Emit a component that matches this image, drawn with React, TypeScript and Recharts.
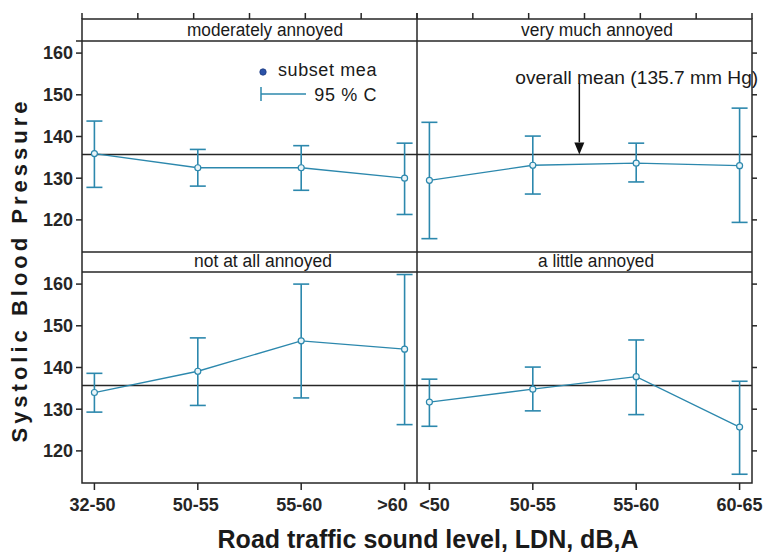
import React from "react";
import {
  ComposedChart,
  Line,
  ErrorBar,
  XAxis,
  YAxis,
  ReferenceLine,
  ReferenceDot,
} from "recharts";

// values (mmHg)
const overallMean = 135.7;
const yTicks = [120, 130, 140, 150, 160];
const topTicks = [0, 0.5, 1, 1.5, 2, 2.5, 3];
const leftCategories = ["32-50", "50-55", "55-60", ">60"];
const rightCategories = ["<50", "50-55", "55-60", "60-65"];

// moderately annoyed
const moderatelyMean = [135.9, 132.5, 132.5, 130.0];
const moderatelyLow = [127.8, 128.1, 127.1, 121.3];
const moderatelyHigh = [143.7, 136.9, 137.8, 138.4];

// very much annoyed
const veryMuchMean = [129.5, 133.1, 133.6, 133.0];
const veryMuchLow = [115.5, 126.2, 129.1, 119.4];
const veryMuchHigh = [143.4, 140.1, 138.4, 146.8];

// not at all annoyed
const notAtAllMean = [134.0, 139.1, 146.4, 144.4];
const notAtAllLow = [129.3, 130.9, 132.7, 126.3];
const notAtAllHigh = [138.6, 147.1, 160.0, 162.3];

// a little annoyed
const littleMean = [131.7, 134.8, 137.8, 125.7];
const littleLow = [125.9, 129.6, 128.7, 114.4];
const littleHigh = [137.2, 140.1, 146.6, 136.7];

const W = 763;
const H = 553;
const teal = "#2c88ad";
const ink = "#262626";
const sans = "'Liberation Sans', Arial, sans-serif";

const yDomain: [number, number] = [112.3, 162.9];
const xDomain: [number, number] = [-0.12, 3.12];

const buildRows = (cats: string[], mean: number[], low: number[], high: number[]) =>
  cats.map((c, i) => ({
    x: i,
    label: c,
    mean: mean[i],
    err: [mean[i] - low[i], high[i] - mean[i]],
  }));

const tickStyle = { fontFamily: sans, fontWeight: 700, fontSize: 18, fill: ink };

const TopTick = (props: any) => (
  <line x1={props.x} x2={props.x} y1={props.y - 22} y2={props.y - 28} stroke={ink} strokeWidth={1.5} />
);
const NoLabel = () => <g />;

interface PanelProps {
  rows: ReturnType<typeof buildRows>;
  cats: string[];
  rect: { x0: number; x1: number; y0: number; y1: number };
  labelShift?: number[];
  showLeft?: boolean;
  showRight?: boolean;
  showTop?: boolean;
  showBottom?: boolean;
  annotate?: boolean;
}

const Panel: React.FC<PanelProps> = ({ rows, cats, rect, labelShift = [0, 0, 0, 0], showLeft, showRight, showTop, showBottom, annotate }) => {
  const margin = {
    left: rect.x0 - (showLeft ? 60 : 0),
    right: W - rect.x1 - (showRight ? 10 : 0),
    top: rect.y0 - (showTop ? 10 : 0),
    bottom: H - rect.y1 - (showBottom ? 45 : 0),
  };
  const BottomTick = (p: any) => (
    <text
      x={p.x + (labelShift[p.payload.value] || 0)}
      y={p.y}
      dy="0.71em"
      textAnchor="middle"
      {...tickStyle}
    >
      {cats[p.payload.value]}
    </text>
  );
  return (
    <div style={{ position: "absolute", left: 0, top: 0 }}>
      <ComposedChart width={W} height={H} data={rows} margin={margin}>
        <XAxis
          xAxisId="x"
          dataKey="x"
          type="number"
          domain={xDomain}
          allowDataOverflow
          ticks={[0, 1, 2, 3]}
          hide={!showBottom}
          height={45}
          axisLine={false}
          tickSize={7}
          tickMargin={8}
          tickLine={{ stroke: ink, strokeWidth: 1.5 }}
          tick={BottomTick}
          interval={0}
        />
        {showTop && (
          <XAxis
            xAxisId="t"
            type="number"
            orientation="top"
            domain={xDomain}
            allowDataOverflow
            ticks={topTicks}
            height={10}
            axisLine={false}
            tickLine={false}
            tickSize={0}
            tickMargin={0}
            tick={TopTick}
            interval={0}
          />
        )}
        <YAxis
          yAxisId="y"
          type="number"
          domain={yDomain}
          allowDataOverflow
          ticks={yTicks}
          hide={!showLeft}
          width={60}
          axisLine={false}
          tickSize={6}
          tickMargin={3}
          tickLine={{ stroke: ink, strokeWidth: 1.5 }}
          tick={tickStyle}
          interval={0}
        />
        {showRight && (
          <YAxis
            yAxisId="r"
            orientation="right"
            type="number"
            domain={yDomain}
            allowDataOverflow
            ticks={yTicks}
            width={10}
            axisLine={false}
            tickSize={5}
            tickLine={{ stroke: ink, strokeWidth: 1.5 }}
            tick={NoLabel}
            interval={0}
          />
        )}
        <ReferenceLine xAxisId="x" yAxisId="y" y={overallMean} stroke={ink} strokeWidth={1.5} />
        {annotate && (
          <ReferenceLine
            xAxisId="x"
            yAxisId="y"
            segment={[
              { x: 1.45, y: 152.8 },
              { x: 1.45, y: 138.6 },
            ]}
            stroke="#111"
            strokeWidth={1.5}
            ifOverflow="visible"
          />
        )}
        {annotate && (
          <ReferenceDot
            xAxisId="x"
            yAxisId="y"
            x={1.45}
            y={overallMean}
            ifOverflow="visible"
            shape={(p: any) => (
              <polygon
                points={`${p.cx - 5},${p.cy - 12} ${p.cx + 5},${p.cy - 12} ${p.cx},${p.cy}`}
                fill="#111"
              />
            )}
          />
        )}
        {annotate && (
          <ReferenceDot
            xAxisId="x"
            yAxisId="y"
            x={0.83}
            y={152.6}
            ifOverflow="visible"
            shape={(p: any) => (
              <text
                x={p.cx}
                y={p.cy}
                fontFamily={sans}
                fontSize={19}
                textLength={243}
                lengthAdjust="spacingAndGlyphs"
                fill="#1a1a1a"
              >
                overall mean (135.7 mm Hg)
              </text>
            )}
          />
        )}
        <Line
          xAxisId="x"
          yAxisId="y"
          dataKey="mean"
          type="linear"
          stroke={teal}
          strokeWidth={1.3}
          dot={{ r: 3, stroke: teal, strokeWidth: 1.2, fill: "#eaf5f9" }}
          isAnimationActive={false}
        >
          <ErrorBar dataKey="err" width={8} stroke={teal} strokeWidth={1.6} direction="y" />
        </Line>
      </ComposedChart>
    </div>
  );
};

const App: React.FC = () => {
  const tl = { x0: 82, x1: 417, y0: 41, y1: 252 };
  const tr = { x0: 417, x1: 752, y0: 41, y1: 252 };
  const bl = { x0: 82, x1: 417, y0: 272, y1: 483 };
  const br = { x0: 417, x1: 752, y0: 272, y1: 483 };

  const stripText = {
    fontFamily: sans,
    fontSize: 18,
    fill: "#1a1a1a",
    lengthAdjust: "spacingAndGlyphs" as const,
  };

  return (
    <div style={{ position: "absolute", left: 0, top: 0, width: W, height: H, background: "#fff" }}>
      <Panel rows={buildRows(leftCategories, moderatelyMean, moderatelyLow, moderatelyHigh)} cats={leftCategories} rect={tl} showLeft showTop />
      <Panel rows={buildRows(rightCategories, veryMuchMean, veryMuchLow, veryMuchHigh)} cats={rightCategories} rect={tr} showRight showTop annotate />
      <Panel
        rows={buildRows(leftCategories, notAtAllMean, notAtAllLow, notAtAllHigh)}
        cats={leftCategories}
        rect={bl}
        labelShift={[-2, -2, -2, -12]}
        showLeft
        showBottom
      />
      <Panel
        rows={buildRows(rightCategories, littleMean, littleLow, littleHigh)}
        cats={rightCategories}
        rect={br}
        labelShift={[5, 0, 0, 0]}
        showRight
        showBottom
      />

      <svg width={W} height={H} style={{ position: "absolute", left: 0, top: 0, pointerEvents: "none" }}>
        {/* panel frames and strips */}
        <rect x={82} y={19} width={670} height={464} fill="none" stroke={ink} strokeWidth={1.5} />
        <line x1={417} x2={417} y1={19} y2={483} stroke={ink} strokeWidth={1.5} />
        <line x1={76} x2={752} y1={41} y2={41} stroke={ink} strokeWidth={1.5} />
        <line x1={82} x2={752} y1={252} y2={252} stroke={ink} strokeWidth={1.5} />
        <line x1={82} x2={752} y1={272} y2={272} stroke={ink} strokeWidth={1.5} />

        <text x={187} y={36} textLength={156} {...stripText}>moderately annoyed</text>
        <text x={521} y={36} textLength={152} {...stripText}>very much annoyed</text>
        <text x={194} y={267} textLength={138} {...stripText}>not at all annoyed</text>
        <text x={538} y={267} textLength={116} {...stripText}>a little annoyed</text>

        {/* legend */}
        <circle cx={263} cy={72} r={3.2} fill="#2b52a8" stroke="#1c3a80" strokeWidth={0.8} />
        <text x={377} y={76} textAnchor="end" fontFamily={sans} fontSize={18} letterSpacing={0.6} fill="#1a1a1a">
          subset mea
        </text>
        <line x1={261} x2={261} y1={87} y2={101} stroke={teal} strokeWidth={1.5} />
        <line x1={261} x2={306} y1={94} y2={94} stroke={teal} strokeWidth={1.5} />
        <text x={377} y={101} textAnchor="end" fontFamily={sans} fontSize={18} letterSpacing={0.6} fill="#1a1a1a">
          95 % C
        </text>

        {/* axis titles */}
        <text
          transform="translate(27 270) rotate(-90)"
          textAnchor="middle"
          fontFamily={sans}
          fontWeight={700}
          fontSize={22}
          letterSpacing={4}
          fill="#1a1a1a"
        >
          Systolic Blood Pressure
        </text>
        <text x={428} y={548} textAnchor="middle" fontFamily={sans} fontWeight={700} fontSize={25} fill="#1a1a1a">
          Road traffic sound level, LDN, dB,A
        </text>
      </svg>
    </div>
  );
};

export default App;
